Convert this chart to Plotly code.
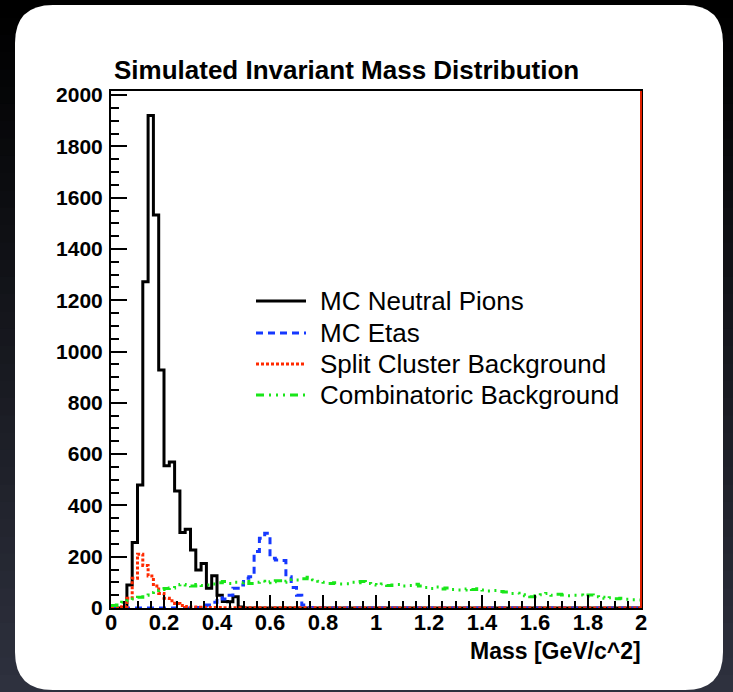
import plotly.graph_objects as go

# ---------------- data (100 bins of 0.02 GeV/c^2 from 0 to 2) ----------------
bin_width = 0.02
n_bins = 100

pions = [0, 0, 2, 90, 255, 480, 1272, 1920, 1532, 928,
         555, 569, 456, 294, 307, 226, 148, 174, 77, 126,
         50, 25, 24, 44, 4, 0, 0, 0, 0, 0,
         0, 0, 0, 0, 0, 0, 0, 0, 0, 0,
         0, 0, 0, 0, 0, 0, 0, 0, 0, 0,
         0, 0, 0, 0, 0, 0, 0, 0, 0, 0,
         0, 0, 0, 0, 0, 0, 0, 0, 0, 0,
         0, 0, 0, 0, 0, 0, 0, 0, 0, 0,
         0, 0, 0, 0, 0, 0, 0, 0, 0, 0,
         0, 0, 0, 0, 0, 0, 0, 0, 0, 0]

etas = [0, 0, 0, 0, 0, 0, 0, 0, 0, 0,
        0, 0, 0, 0, 0, 0, 2, 8, 12, 22,
        40, 35, 50, 77, 90, 116, 122, 220, 272, 291,
        194, 187, 185, 122, 80, 50, 12, 2, 0, 0,
        0, 0, 0, 0, 0, 0, 0, 0, 0, 0,
        0, 0, 0, 0, 0, 0, 0, 0, 0, 0,
        0, 0, 0, 0, 0, 0, 0, 0, 0, 0,
        0, 0, 0, 0, 0, 0, 0, 0, 0, 0,
        0, 0, 0, 0, 0, 0, 0, 0, 0, 0,
        0, 0, 0, 0, 0, 0, 0, 0, 0, 0]

split_bg = [0, 0, 5, 38, 116, 210, 166, 125, 86, 57,
            38, 28, 18, 10, 6, 4, 3, 2, 2, 2,
            2, 1, 1, 1, 1, 1, 1, 1, 1, 1,
            1, 1, 1, 1, 1, 1, 1, 1, 1, 1,
            0, 0, 0, 0, 0, 0, 0, 0, 0, 0,
            0, 0, 0, 0, 0, 0, 0, 0, 0, 0,
            0, 0, 0, 0, 0, 0, 0, 0, 0, 0,
            0, 0, 0, 0, 0, 0, 0, 0, 0, 0,
            0, 0, 0, 0, 0, 0, 0, 0, 0, 0,
            0, 0, 0, 0, 0, 0, 0, 0, 0, 0]

combinatoric_bg = [10, 12, 22, 28, 35, 42, 50, 60, 68, 72,
                   76, 78, 80, 92, 90, 86, 92, 88, 90, 94,
                   98, 103, 96, 100, 98, 103, 96, 100, 104, 98,
                   102, 106, 100, 104, 110, 109, 114, 120, 110, 104,
                   100, 96, 98, 94, 95, 100, 98, 103, 96, 92,
                   90, 94, 88, 90, 92, 86, 88, 93, 86, 80,
                   76, 82, 74, 78, 72, 70, 70, 74, 72, 75,
                   70, 66, 68, 64, 62, 57, 58, 52, 48, 44,
                   48, 52, 57, 50, 54, 51, 48, 50, 51, 46,
                   51, 44, 42, 38, 40, 36, 38, 34, 32, 31]

series_names = ["MC Neutral Pions", "MC Etas", "Split Cluster Background",
                "Combinatoric Background"]
x_tick_vals = [0, 0.2, 0.4, 0.6, 0.8, 1.0, 1.2, 1.4, 1.6, 1.8, 2.0]
x_tick_text = ["0", "0.2", "0.4", "0.6", "0.8", "1", "1.2", "1.4", "1.6", "1.8", "2"]
y_tick_vals = [0, 200, 400, 600, 800, 1000, 1200, 1400, 1600, 1800, 2000]

# ---------------- layout geometry ----------------
W, H = 733, 692
ML, MR, MT, MB = 111, 92, 91, 84
PW, PH = W - ML - MR, H - MT - MB


def px(x):
    return (x - ML) / PW


def py(y):
    return (H - MB - y) / PH


edges = [round(i * bin_width, 4) for i in range(n_bins + 1)]

colors = ["#000000", "#1538ff", "#ff2a00", "#19e619"]
dashes = ["solid", "7px,5px", "3px,2px", "8px,5px,2px,5px,2px,5px,2px,5px"]
data = [pions, etas, split_bg, combinatoric_bg]

fig = go.Figure()
for name, vals, col, dsh in zip(series_names, data, colors, dashes):
    fig.add_trace(go.Scatter(
        x=edges, y=list(vals) + [vals[-1]], mode="lines", line_shape="hv",
        line=dict(color=col, width=3, dash=dsh), name=name, showlegend=False,
        hoverinfo="skip"))

shapes = []
# dark gradient background
n_band = 40
top_c = (0, 0, 0)
bot_c = (46, 49, 62)
for i in range(n_band):
    t = i / (n_band - 1)
    c = tuple(int(top_c[j] + (bot_c[j] - top_c[j]) * t) for j in range(3))
    y0 = H * i / n_band
    y1 = H * (i + 1) / n_band + 1
    shapes.append(dict(type="rect", xref="paper", yref="paper", layer="below",
                       x0=px(-2), x1=px(W + 2), y0=py(y1), y1=py(y0),
                       line=dict(width=0), fillcolor="rgb(%d,%d,%d)" % c))

# white rounded card
L, R, T, B, r = 15, 723, 5, 690, 38
path = ("M {a},{b} L {c},{b} Q {R},{b} {R},{d} L {R},{e} Q {R},{B} {c},{B} "
        "L {a},{B} Q {L},{B} {L},{e} L {L},{d} Q {L},{b} {a},{b} Z").format(
    a=px(L + r), b=py(T), c=px(R - r), d=py(T + r), e=py(B - r),
    R=px(R), B=py(B), L=px(L))
shapes.append(dict(type="path", xref="paper", yref="paper", layer="below",
                   path=path, fillcolor="white", line=dict(width=0)))

# red frame edge on the right (as in the reference)
shapes.append(dict(type="line", xref="paper", yref="paper", x0=1, x1=1, y0=0, y1=1,
                   line=dict(color="#e02000", width=2), layer="above"))

FONT = "Liberation Sans, Arial, Helvetica"
annotations = []
# manual legend
leg_rows = [301, 333, 364, 395]
for name, col, dsh, yr in zip(series_names, colors, dashes, leg_rows):
    shapes.append(dict(type="line", xref="paper", yref="paper",
                       x0=px(256), x1=px(306), y0=py(yr), y1=py(yr),
                       line=dict(color=col, width=3, dash=dsh)))
    annotations.append(dict(xref="paper", yref="paper", x=px(318), y=py(yr),
                            xanchor="left", yanchor="middle", showarrow=False,
                            text=name,
                            font=dict(family=FONT, size=26, color="#000")))

annotations.append(dict(xref="paper", yref="paper", x=px(346), y=py(70),
                        xanchor="center", yanchor="middle", showarrow=False,
                        text="Simulated Invariant Mass Distribution",
                        font=dict(family=FONT, size=26, color="#000", weight="bold")))
annotations.append(dict(xref="paper", yref="paper", x=px(643), y=py(651),
                        xanchor="right", yanchor="middle", showarrow=False,
                        text="Mass [GeV/c^2]",
                        font=dict(family=FONT, size=23, color="#000", weight="bold")))

xtick_font = dict(family=FONT, size=22, color="#000", weight="bold")
ytick_font = dict(family=FONT, size=21, color="#000", weight="bold")

fig.update_layout(
    width=W, height=H,
    margin=dict(l=ML, r=MR, t=MT, b=MB, pad=0),
    paper_bgcolor="rgb(46,49,62)",
    plot_bgcolor="rgba(0,0,0,0)",
    shapes=shapes, annotations=annotations, showlegend=False,
    xaxis=dict(range=[0, 2], showgrid=False, zeroline=False,
               showline=True, linecolor="#000", linewidth=2, mirror=True,
               ticks="inside", ticklen=13, tickwidth=2, tickcolor="#000",
               tickvals=x_tick_vals, ticktext=x_tick_text, tickfont=xtick_font,
               ticklabelstandoff=-6,
               minor=dict(dtick=0.05, ticks="inside", ticklen=7, tickwidth=2,
                          tickcolor="#000", showgrid=False)),
    yaxis=dict(range=[0, 2016], showgrid=False, zeroline=False,
               showline=True, linecolor="#000", linewidth=2, mirror=True,
               ticks="inside", ticklen=16, tickwidth=2, tickcolor="#000",
               tickvals=y_tick_vals, tickfont=ytick_font, ticklabelstandoff=2,
               minor=dict(dtick=50, ticks="inside", ticklen=8, tickwidth=2,
                          tickcolor="#000", showgrid=False)),
)

fig.write_html("out.html")
